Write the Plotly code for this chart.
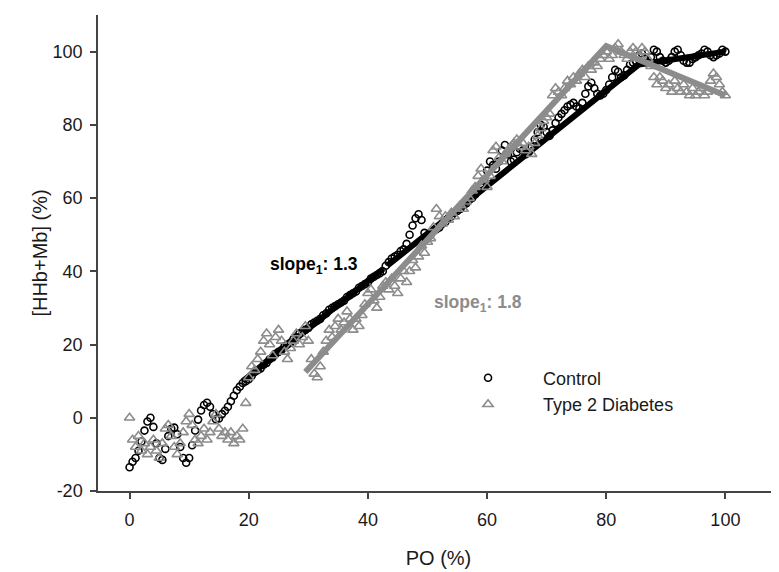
import plotly.graph_objects as go

# ---- data ----
po_pct = [i * 0.5 for i in range(201)]  # PO (%) sampling grid 0..100 step 0.5

control_y = [
    -13.5, -12, -11, -9, -6.5, -3.5, -1, 0, -2.5, -7,
    -11, -11.5, -8.5, -5, -3, -2.7, -4.5, -8, -11, -12.3,
    -11, -7.5, -3.5, -0.5, 2, 3.5, 4.1, 3, 1, -0.4,
    -0.2, 1, 1.9, 3, 4.5, 6, 7.5, 8.5, 9.5, 10,
    10.5, 11.5, 12.5, 13, 13.5, 14.5, 15, 16, 16.5, 17.5,
    18, 18.5, 19.5, 20, 20.5, 21.5, 22, 23, 23.5, 24,
    24.5, 25.5, 26, 26.5, 27, 28, 28.5, 29.5, 30, 30.5,
    31, 31.5, 32, 33, 33.5, 34, 34.5, 35.5, 36, 36.5,
    37, 38, 38.5, 39, 39.5, 40, 41.5, 42.5, 43.5, 44,
    44.5, 45.5, 46, 47.5, 50, 52.5, 54.5, 55.6, 54, 50.5,
    49, 50, 51, 51.5, 52, 53, 53.5, 54.5, 55, 56,
    56.5, 57, 58, 58.5, 59.5, 60, 61, 62, 63, 65,
    67.5, 70, 69, 68, 70, 73, 74.5, 72, 70, 70.5,
    72.5, 73.5, 73, 72, 72.5, 74, 76, 78, 80, 79.5,
    78, 77, 78.5, 80.5, 82, 83, 84, 85, 85.5, 86,
    85, 84.5, 86, 88.5, 90.5, 91.5, 90, 88.5, 88, 88.5,
    89.5, 91, 93, 95, 94.5, 93, 93.5, 95, 96.5, 97,
    97.5, 99, 99.5, 98, 97, 98.5, 100.5, 100, 98.5, 97.5,
    97, 97.5, 98.5, 100, 100.5, 99, 97.5, 97, 97, 98,
    98.5, 99, 99.5, 100.5, 100, 99, 98.5, 99, 99.5, 100.5,
    100,
]

t2d_y = [
    0, -6, -8, -5, -9, -7, -10, -8, -6, -9,
    -11, -7, -3, -2, -5, -8, -10, -7, -4, -1,
    1, -2, -6, -7, -5, -3, -6, -4, -1, 1,
    -3, -5, -4, -6, -4, -7, -5, -6, -3, 4,
    11, 14, 13, 16, 18, 21, 23, 20, 17, 22,
    24, 21, 18, 16, 19, 21, 23, 20, 22, 25,
    21, 16, 12, 11, 14, 18, 21, 24, 22, 25,
    27, 24, 26, 29, 27, 24, 27, 25, 28, 31,
    34, 35, 32, 30, 33, 36, 37, 35, 38, 36,
    34, 38, 40, 37, 40, 43, 41, 44, 47, 45,
    48, 49, 52, 57, 55, 53, 55, 54, 56, 55,
    57, 58, 57, 59, 60, 62, 63, 66, 68, 65,
    63, 66, 73, 74, 71, 70, 72, 73, 74, 75,
    76, 74, 75, 73, 74, 72, 75, 77, 79, 81,
    82, 83, 88, 90, 89, 88, 90, 92, 91, 93,
    92, 94, 95, 93, 96, 95, 97, 96, 98, 99,
    100, 98, 99, 101, 102, 100, 99, 98, 100, 101,
    100, 99, 101, 100, 98, 96, 93, 91, 93, 92,
    90, 91, 89, 92, 90, 89, 91, 89, 88, 90,
    88, 89, 90, 88, 89, 92, 94, 93, 91, 89,
    88,
]

# piecewise fits (breakpoints; the control line shows a small break near 43 %)
control_fit_x = [19, 42.6, None, 43.3, 85.5, 100]
control_fit_y = [10, 40.7, None, 41.6, 96.5, 100]
t2d_fit_x = [29.5, 80, 100]
t2d_fit_y = [12.5, 101.5, 88]

x_ticks = [0, 20, 40, 60, 80, 100]
x_tick_labels = ["0", "20", "40", "60", "80", "100"]
y_ticks = [-20, 0, 20, 40, 60, 80, 100]
y_tick_labels = ["-20", "0", "20", "40", "60", "80", "100"]

BLACK = "#000000"
GREY = "#8c8c8c"
FONT = "Arial, Liberation Sans, sans-serif"
TXT = "#1a1a1a"

fig = go.Figure()

fig.add_trace(go.Scatter(
    x=po_pct, y=control_y, mode="markers", name="Control",
    marker=dict(symbol="circle-open", size=7, color=BLACK, line=dict(width=1.6, color=BLACK)),
))
fig.add_trace(go.Scatter(
    x=control_fit_x, y=control_fit_y, mode="lines", showlegend=False, connectgaps=False,
    line=dict(color=BLACK, width=6),
))
fig.add_trace(go.Scatter(
    x=po_pct, y=t2d_y, mode="markers", name="Type 2 Diabetes",
    marker=dict(symbol="triangle-up-open", size=9, color=GREY, line=dict(width=1.6, color=GREY)),
))
fig.add_trace(go.Scatter(
    x=t2d_fit_x, y=t2d_fit_y, mode="lines", showlegend=False,
    line=dict(color=GREY, width=6),
))

fig.add_annotation(x=30.9, y=41.5, text="<b>slope<sub>1</sub>: 1.3</b>", showarrow=False,
                   font=dict(family=FONT, size=17.5, color=BLACK))
fig.add_annotation(x=58.4, y=31.1, text="<b>slope<sub>1</sub>: 1.8</b>", showarrow=False,
                   font=dict(family=FONT, size=17.5, color=GREY))

axis_common = dict(
    showline=True, linecolor="#444444", linewidth=1.5,
    ticks="outside", ticklen=6, tickwidth=1.5, tickcolor="#444444",
    showgrid=False, zeroline=False,
    tickfont=dict(family=FONT, size=18, color=TXT),
)

fig.update_xaxes(range=[-5.3, 109], tickvals=x_ticks, ticktext=x_tick_labels, ticklabelstandoff=6,
                 title=dict(text="PO (%)", font=dict(family=FONT, size=20, color=TXT), standoff=22),
                 **axis_common)
fig.update_yaxes(range=[-20, 110], tickvals=y_ticks, ticktext=y_tick_labels, ticklabelstandoff=4,
                 title=dict(text="[HHb+Mb] (%)", font=dict(family=FONT, size=20, color=TXT), standoff=0),
                 **axis_common)

# the page body adds an 8px offset; size/margins compensate so the plot area lands where the reference has it
fig.update_layout(
    width=771, height=564,
    margin=dict(l=90, r=0, t=7, b=81),
    plot_bgcolor="white", paper_bgcolor="white",
    legend=dict(x=0.492, y=0.276, xanchor="left", yanchor="top",
                font=dict(family=FONT, size=18, color=TXT),
                itemwidth=100, bgcolor="rgba(0,0,0,0)"),
    font=dict(family=FONT),
)

fig.write_html("out.html")
